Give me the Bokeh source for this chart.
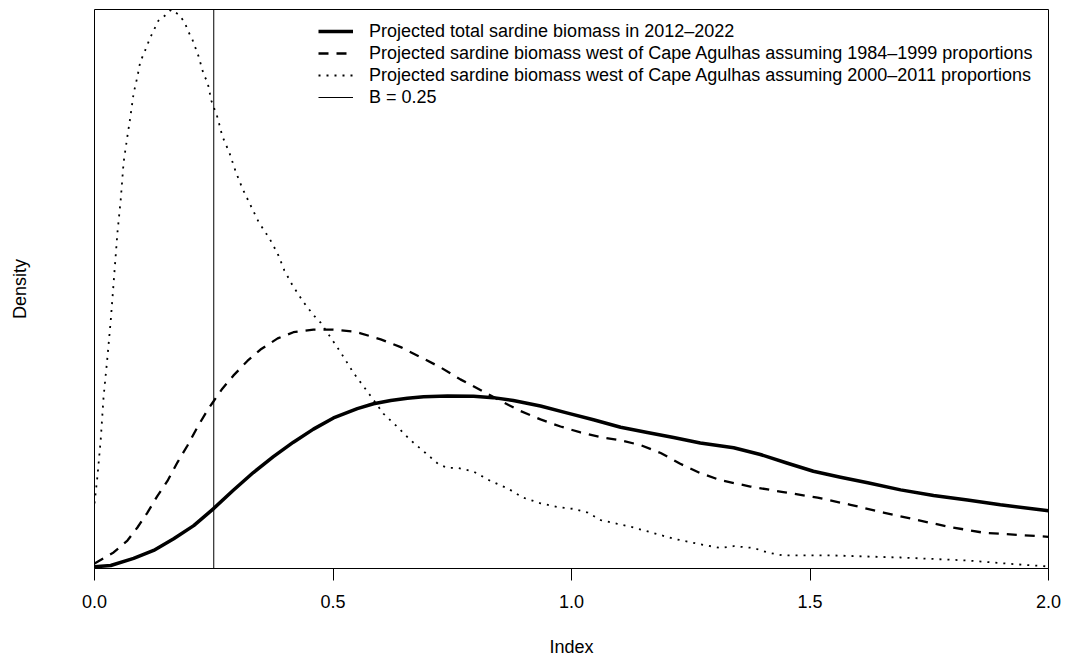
import math
from bokeh.plotting import figure
from bokeh.models import Range1d, FixedTicker, Legend, LegendItem
from bokeh.embed import file_html
from bokeh.resources import INLINE

# ---------------- data ----------------
total_x = [0.000, 0.034, 0.082, 0.124, 0.166, 0.208, 0.249, 0.291, 0.333, 0.375, 0.417, 0.459,
           0.501, 0.551, 0.585, 0.621, 0.656, 0.690, 0.740, 0.795, 0.836, 0.878, 0.935, 0.992,
           1.046, 1.103, 1.159, 1.214, 1.270, 1.340, 1.396, 1.453, 1.507, 1.564, 1.621, 1.690,
           1.759, 1.830, 1.899, 2.000]
total_y = [0.010, 0.016, 0.054, 0.097, 0.160, 0.230, 0.320, 0.420, 0.515, 0.600, 0.678, 0.748,
           0.808, 0.858, 0.884, 0.902, 0.914, 0.922, 0.926, 0.924, 0.917, 0.902, 0.872, 0.834,
           0.798, 0.758, 0.730, 0.703, 0.674, 0.648, 0.612, 0.565, 0.522, 0.490, 0.460, 0.422,
           0.392, 0.368, 0.342, 0.310]

west8499_x = [0.000, 0.040, 0.069, 0.090, 0.111, 0.132, 0.153, 0.174, 0.195, 0.216, 0.237, 0.249,
              0.268, 0.291, 0.321, 0.348, 0.384, 0.417, 0.459, 0.501, 0.543, 0.558, 0.600, 0.642,
              0.683, 0.725, 0.767, 0.809, 0.851, 0.893, 0.935, 0.977, 1.019, 1.061, 1.103, 1.145,
              1.187, 1.228, 1.270, 1.312, 1.375, 1.444, 1.516, 1.585, 1.654, 1.725, 1.795, 1.864,
              2.000]
west8499_y = [0.027, 0.086, 0.150, 0.220, 0.300, 0.390, 0.470, 0.570, 0.660, 0.760, 0.850, 0.895,
              0.965, 1.035, 1.115, 1.175, 1.235, 1.268, 1.282, 1.282, 1.272, 1.262, 1.230, 1.188,
              1.135, 1.080, 1.015, 0.958, 0.900, 0.845, 0.800, 0.762, 0.730, 0.705, 0.688, 0.662,
              0.620, 0.562, 0.512, 0.474, 0.440, 0.410, 0.380, 0.342, 0.300, 0.260, 0.222, 0.192,
              0.170]

west0011_x = [0.000, 0.006, 0.013, 0.019, 0.027, 0.034, 0.040, 0.048, 0.055, 0.061, 0.069, 0.075,
              0.082, 0.090, 0.096, 0.103, 0.117, 0.134, 0.149, 0.161, 0.178, 0.189, 0.197, 0.205,
              0.218, 0.229, 0.237, 0.241, 0.245, 0.258, 0.268, 0.283, 0.296, 0.310, 0.327, 0.344,
              0.367, 0.384, 0.398, 0.415, 0.438, 0.459, 0.474, 0.516, 0.543, 0.572, 0.606, 0.635,
              0.662, 0.694, 0.721, 0.740, 0.761, 0.795, 0.830, 0.866, 0.899, 0.935, 0.971, 1.004,
              1.034, 1.061, 1.096, 1.130, 1.172, 1.214, 1.270, 1.312, 1.340, 1.382, 1.411, 1.444,
              1.549, 1.690, 1.830, 1.935, 2.000]
west0011_y = [0.350, 0.490, 0.690, 0.920, 1.130, 1.330, 1.530, 1.800, 1.980, 2.180, 2.320, 2.420,
              2.550, 2.640, 2.720, 2.760, 2.850, 2.940, 2.970, 3.000, 2.970, 2.930, 2.880, 2.840,
              2.750, 2.650, 2.610, 2.560, 2.510, 2.420, 2.320, 2.230, 2.130, 2.040, 1.950, 1.860,
              1.770, 1.690, 1.600, 1.520, 1.430, 1.360, 1.320, 1.160, 1.050, 0.950, 0.830, 0.760,
              0.690, 0.620, 0.560, 0.540, 0.540, 0.520, 0.470, 0.430, 0.380, 0.350, 0.330, 0.320,
              0.300, 0.260, 0.240, 0.220, 0.190, 0.160, 0.130, 0.110, 0.120, 0.110, 0.086, 0.070,
              0.070, 0.059, 0.043, 0.022, 0.011]

B_LIMIT = 0.25

x_ticks = [0.0, 0.5, 1.0, 1.5, 2.0]
x_tick_labels = ["0.0", "0.5", "1.0", "1.5", "2.0"]

legend_labels = [
    "Projected total sardine biomass in 2012\u20132022",
    "Projected sardine biomass west of Cape Agulhas assuming 1984\u20131999 proportions",
    "Projected sardine biomass west of Cape Agulhas assuming 2000\u20132011 proportions",
    "B = 0.25",
]

FONT = "Liberation Sans"
FS = "18px"
Y_MIN, Y_MAX = 0.0, 3.0

# ---------------- figure ----------------
p = figure(width=1066, height=661, output_backend="svg", toolbar_location=None,
           x_range=Range1d(0, 2.0), y_range=Range1d(Y_MIN, Y_MAX),
           min_border_left=94, min_border_right=18, min_border_top=9, min_border_bottom=93)

p.background_fill_color = "white"
p.border_fill_color = "white"
p.outline_line_color = "black"
p.outline_line_width = 1
p.xgrid.visible = False
p.ygrid.visible = False

# x axis
xa = p.xaxis[0]
xa.ticker = FixedTicker(ticks=x_ticks)
xa.major_label_overrides = {t: l for t, l in zip(x_ticks, x_tick_labels)}
xa.minor_tick_line_color = None
xa.major_tick_in = 0
xa.major_tick_out = 12
xa.major_tick_line_color = "black"
xa.axis_line_color = "black"
xa.major_label_text_font = FONT
xa.major_label_text_font_size = FS
xa.major_label_text_color = "black"
xa.major_label_standoff = 14
xa.axis_label = "Index"
xa.axis_label_text_font = FONT
xa.axis_label_text_font_size = FS
xa.axis_label_text_font_style = "normal"
xa.axis_label_text_color = "black"
xa.axis_label_standoff = 26

# y axis: label only
ya = p.yaxis[0]
ya.ticker = FixedTicker(ticks=[])
ya.minor_tick_line_color = None
ya.major_tick_line_color = None
ya.axis_line_color = None
ya.axis_label = "Density"
ya.axis_label_text_font = FONT
ya.axis_label_text_font_size = FS
ya.axis_label_text_font_style = "normal"
ya.axis_label_text_color = "black"
ya.axis_label_standoff = 65

# curves
r_total = p.line(total_x, total_y, line_color="black", line_width=3.5, line_join="round")
r_8499 = p.line(west8499_x, west8499_y, line_color="black", line_width=2.3, line_dash="10 8",
                line_join="round")
r_0011 = p.line(west0011_x, west0011_y, line_color="black", line_width=1.8, line_dash="2 6",
                line_join="round")

# reference line B = 0.25 (vertical, full height)
r_b = p.ray(x=[B_LIMIT], y=[Y_MIN], length=0, angle=math.pi / 2,
            line_color="black", line_width=1)

legend = Legend(items=[
    LegendItem(label=legend_labels[0], renderers=[r_total]),
    LegendItem(label=legend_labels[1], renderers=[r_8499]),
    LegendItem(label=legend_labels[2], renderers=[r_0011]),
    LegendItem(label=legend_labels[3], renderers=[r_b]),
], location=(224, 460))
legend.border_line_color = None
legend.background_fill_alpha = 0
legend.padding = 0
legend.margin = 0
legend.spacing = 0
legend.glyph_width = 35
legend.glyph_height = 22
legend.label_height = 22
legend.label_standoff = 16
legend.label_text_font = FONT
legend.label_text_font_size = FS
legend.label_text_color = "black"
p.add_layout(legend, "center")

open("out.html", "w").write(file_html(p, INLINE))
